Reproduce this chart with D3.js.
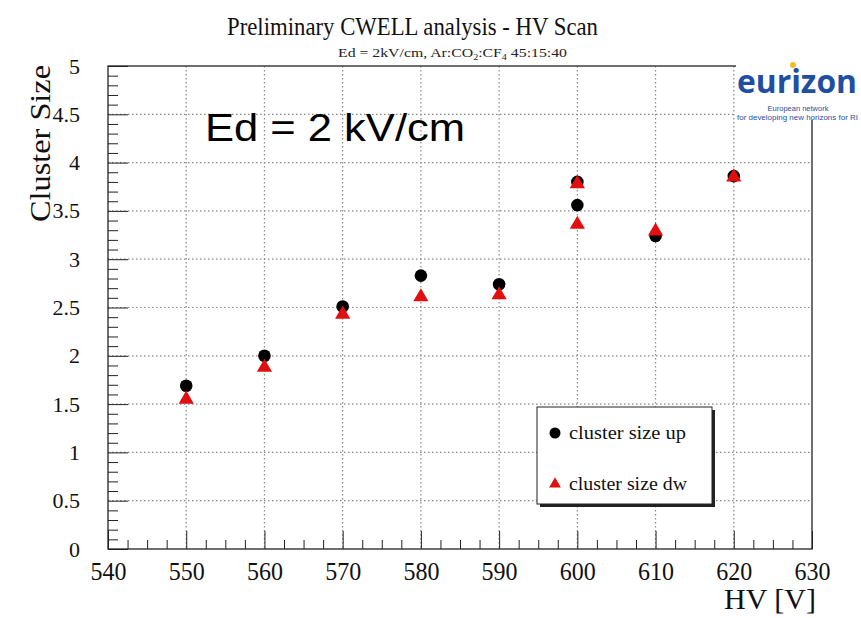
<!DOCTYPE html>
<html><head><meta charset="utf-8">
<script src="https://cdn.jsdelivr.net/npm/d3@7"></script>
<style>body{margin:0;background:#fff}svg{display:block}</style>
</head><body>
<svg id="c" width="861" height="618"></svg>
<script>
// ---- data ----
const hvUp = [550, 560, 570, 580, 590, 600, 600, 610, 620];
const clusterUp = [1.69, 2.00, 2.51, 2.83, 2.74, 3.80, 3.56, 3.24, 3.86];
const hvDw = [550, 560, 570, 580, 590, 600, 600, 610, 620];
const clusterDw = [1.56, 1.89, 2.44, 2.62, 2.64, 3.79, 3.37, 3.30, 3.86];
const xMajorTicks = [540, 550, 560, 570, 580, 590, 600, 610, 620, 630];
const yMajorTicks = [0, 0.5, 1, 1.5, 2, 2.5, 3, 3.5, 4, 4.5, 5];
const yTickLabels = ["0", "0.5", "1", "1.5", "2", "2.5", "3", "3.5", "4", "4.5", "5"];
const seriesNames = ["cluster size up", "cluster size dw"];

const svg = d3.select("#c");
const L = 108, R = 812, T = 66, B = 549;
const x = d3.scaleLinear().domain([540, 630]).range([L, R]);
const y = d3.scaleLinear().domain([0, 5]).range([B, T]);
const serif = "'Liberation Serif', 'DejaVu Serif', serif";

// grid
const g = svg.append("g");
g.selectAll(".gx").data(xMajorTicks.filter(v => v > 540 && v < 630)).enter().append("line")
  .attr("x1", d => x(d)).attr("x2", d => x(d)).attr("y1", T).attr("y2", B)
  .attr("stroke", "#888").attr("stroke-width", 1.2).attr("stroke-dasharray", "1.5,2.5");
g.selectAll(".gy").data(yMajorTicks.filter(v => v > 0 && v < 5)).enter().append("line")
  .attr("x1", L).attr("x2", R).attr("y1", d => y(d)).attr("y2", d => y(d))
  .attr("stroke", "#888").attr("stroke-width", 1.2).attr("stroke-dasharray", "1.5,2.5");

// minor ticks
const xMinor = d3.range(540, 630.01, 2.5).filter(v => !xMajorTicks.includes(v));
const yMinor = d3.range(0, 5.001, 0.1).map(v => +v.toFixed(2)).filter(v => !yMajorTicks.includes(v));

const xAxis = svg.append("g").attr("transform", `translate(0,${B})`)
  .call(d3.axisBottom(x).tickValues(xMajorTicks).tickSize(-18).tickPadding(30).tickFormat(d3.format("d")));
xAxis.select(".domain").remove();
xAxis.selectAll(".tick line").attr("stroke", "#222");
xAxis.selectAll("text").attr("font-family", serif).attr("font-size", 25).attr("fill", "#111")
  .attr("textLength", 36).attr("lengthAdjust", "spacingAndGlyphs").attr("dy", "0.05em").attr("x", -18)
  .attr("text-anchor", "start");
const xAxisMinor = svg.append("g").attr("transform", `translate(0,${B})`)
  .call(d3.axisBottom(x).tickValues(xMinor).tickSize(-9).tickFormat(""));
xAxisMinor.select(".domain").remove();
xAxisMinor.selectAll(".tick line").attr("stroke", "#222");

const yAxis = svg.append("g").attr("transform", `translate(${L},0)`)
  .call(d3.axisLeft(y).tickValues(yMajorTicks).tickSize(-20).tickPadding(28).tickFormat((d, i) => yTickLabels[i]));
yAxis.select(".domain").remove();
yAxis.selectAll(".tick line").attr("stroke", "#222");
yAxis.selectAll("text").attr("font-family", serif).attr("font-size", 22).attr("fill", "#111");
const yAxisMinor = svg.append("g").attr("transform", `translate(${L},0)`)
  .call(d3.axisLeft(y).tickValues(yMinor).tickSize(-10).tickFormat(""));
yAxisMinor.select(".domain").remove();
yAxisMinor.selectAll(".tick line").attr("stroke", "#222");

// frame
svg.append("rect").attr("x", L).attr("y", T).attr("width", R - L).attr("height", B - T)
  .attr("fill", "none").attr("stroke", "#222").attr("stroke-width", 1.3);

// data points
const tri = d3.symbol().type(d3.symbolTriangle).size(100);
svg.append("g").selectAll("circle").data(hvUp.map((h, i) => [h, clusterUp[i]])).enter()
  .append("circle").attr("cx", d => x(d[0])).attr("cy", d => y(d[1])).attr("r", 6.3).attr("fill", "#000");
svg.append("g").selectAll("path").data(hvDw.map((h, i) => [h, clusterDw[i]])).enter()
  .append("path").attr("d", tri).attr("transform", d => `translate(${x(d[0])},${y(d[1]) + 1})`)
  .attr("fill", "#e01010");

// legend
const lg = svg.append("g");
lg.append("rect").attr("x", 540).attr("y", 410).attr("width", 175).attr("height", 97).attr("fill", "#222");
lg.append("rect").attr("x", 537).attr("y", 407).attr("width", 175).attr("height", 97)
  .attr("fill", "#fff").attr("stroke", "#222").attr("stroke-width", 1);
lg.append("circle").attr("cx", 555).attr("cy", 433).attr("r", 5.5).attr("fill", "#000");
lg.append("path").attr("d", d3.symbol().type(d3.symbolTriangle).size(60)).attr("transform", "translate(555,484)").attr("fill", "#e01010");
lg.selectAll("text").data(seriesNames).enter().append("text")
  .attr("x", 569).attr("y", (d, i) => [439, 490][i]).text(d => d)
  .attr("font-family", serif).attr("font-size", 19).attr("fill", "#111")
  .attr("textLength", (d, i) => [117, 118][i]).attr("lengthAdjust", "spacingAndGlyphs");

// titles
svg.append("text").attr("x", 227).attr("y", 35)
  .attr("font-family", serif).attr("font-size", 25).attr("fill", "#111")
  .attr("textLength", 371).attr("lengthAdjust", "spacingAndGlyphs")
  .text("Preliminary CWELL analysis - HV Scan");
const sub = svg.append("text").attr("x", 338).attr("y", 57)
  .attr("font-family", serif).attr("font-size", 12.5).attr("fill", "#222")
  .attr("textLength", 229).attr("lengthAdjust", "spacingAndGlyphs");
sub.append("tspan").text("Ed = 2kV/cm, Ar:CO");
sub.append("tspan").attr("font-size", 8).attr("dy", 3).text("2");
sub.append("tspan").attr("dy", -3).text(":CF");
sub.append("tspan").attr("font-size", 8).attr("dy", 3).text("4");
sub.append("tspan").attr("dy", -3).text(" 45:15:40");

svg.append("text").attr("transform", "translate(50,222) rotate(-90)").attr("text-anchor", "start")
  .attr("font-family", serif).attr("font-size", 29).attr("fill", "#111")
  .attr("textLength", 157).attr("lengthAdjust", "spacingAndGlyphs").text("Cluster Size");
svg.append("text").attr("x", 816).attr("y", 609).attr("text-anchor", "end")
  .attr("font-family", serif).attr("font-size", 30).attr("fill", "#111").text("HV [V]");

svg.append("text").attr("x", 205).attr("y", 141)
  .attr("font-family", "'Liberation Sans', Arial, sans-serif").attr("font-size", 38).attr("fill", "#000")
  .attr("textLength", 260).attr("lengthAdjust", "spacingAndGlyphs")
  .text("Ed = 2 kV/cm");

// logo
const lo = svg.append("g");
lo.append("rect").attr("x", 736).attr("y", 60).attr("width", 125).attr("height", 60).attr("fill", "#fff");
lo.append("text").attr("transform", "translate(737,93) scale(1,1.15)").attr("x", 0).attr("y", 0)
  .attr("font-family", "'Open Sans', 'Liberation Sans', sans-serif")
  .attr("font-size", 28).attr("font-weight", "bold").attr("fill", "#1f4fa0")
  .attr("textLength", 120).attr("lengthAdjust", "spacingAndGlyphs").text("eurizon");
lo.append("circle").attr("cx", 793).attr("cy", 65).attr("r", 3).attr("fill", "#f0c020");
lo.append("text").attr("x", 798).attr("y", 111).attr("text-anchor", "middle").attr("font-family", "'Liberation Sans', sans-serif")
  .attr("font-size", 7.5).attr("fill", "#1f4fa0").text("European network");
lo.append("text").attr("x", 737).attr("y", 120).attr("font-family", "'Liberation Sans', sans-serif")
  .attr("font-size", 7).attr("fill", "#1f4fa0").attr("textLength", 121).attr("lengthAdjust", "spacingAndGlyphs")
  .text("for developing new horizons for RI");
</script>
</body></html>
